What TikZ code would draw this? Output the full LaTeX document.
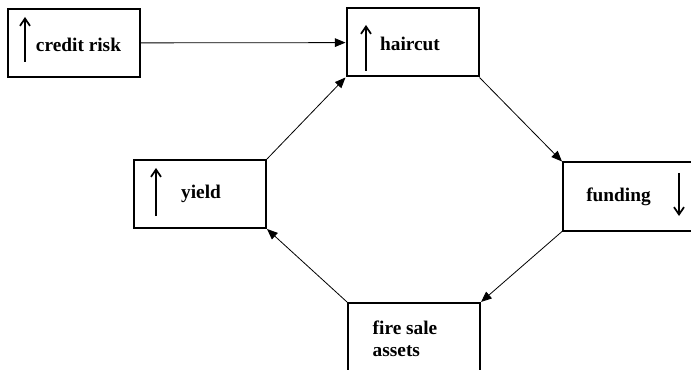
\documentclass[tikz,border=0pt]{standalone}
\usepackage{fontspec}
\setmainfont{Liberation Serif}
\usepackage{tikz}
\usetikzlibrary{arrows.meta}

\begin{document}
\begin{tikzpicture}[x=0.75pt,y=-0.75pt,
		box/.style={shape=rectangle,draw=black,line width=1.5pt,minimum width=99pt,minimum height=51pt,inner sep=0pt},
		lbl/.style={font=\fontsize{14.5}{16.5}\selectfont\bfseries,inner sep=0pt,align=left},
		updown/.style={line width=1.3pt,-{Straight Barb[length=5.5pt,width=7.5pt]}},
		conn/.style={line width=0.6pt,-{Triangle[length=8pt,width=6.5pt]}}]
			\useasboundingbox (0,0) rectangle (691,370);
			\clip (0,0) rectangle (691,370);
			
			\node[box] (credit) at (74,43) {};
			\node[box] (haircut) at (412.5,42.5) {};
			\node[box] (funding) at (629,196.5) {};
			\node[box] (fire) at (414,337) {};
			\node[box] (yield) at (200,194) {};
			
			\node[lbl] (creditT) at (78.5,45) {credit risk};
			\node[lbl] (haircutT) at (410,44) {haircut};
			\node[lbl] (fundingT) at (618.5,197) {funding};
			\node[lbl] (fireT) at (405,339) {fire sale\\assets};
			\node[lbl] (yieldT) at (201,194) {yield};
			
			\draw[updown] (25,62) -- (25,17);
			\draw[updown] (366,71) -- (366,25);
			\draw[updown] (679,173) -- (679,216);
			\draw[updown] (156,216) -- (156,168);
			
			\draw[conn] (credit) -- (haircut);
			\draw[conn] (haircut.south east) -- (funding.north west);
			\draw[conn] (funding.south west) -- (fire.north east);
			\draw[conn] (fire.north west) -- (yield.south east);
			\draw[conn] (yield.north east) -- (haircut.south west);
		\end{tikzpicture}
\end{document}
